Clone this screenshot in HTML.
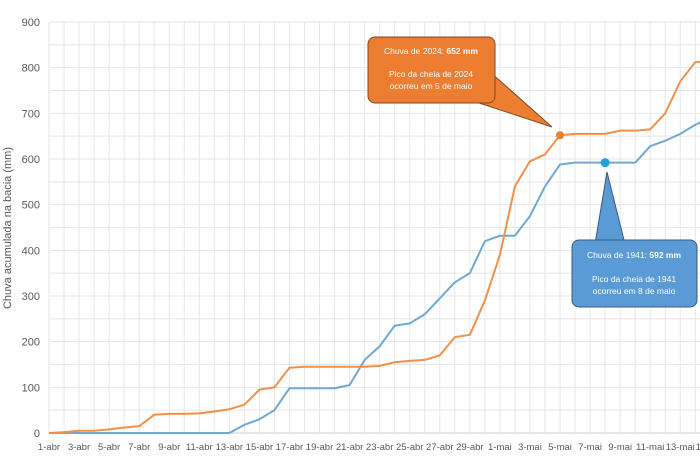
<!DOCTYPE html>
<html><head><meta charset="utf-8"><style>
html,body{margin:0;padding:0;background:#fff;}
svg{display:block;font-family:"Liberation Sans",sans-serif;}
</style></head><body>
<svg id="chart" width="700" height="466"></svg>
<script>
const days = ["1-abr","2-abr","3-abr","4-abr","5-abr","6-abr","7-abr","8-abr","9-abr","10-abr","11-abr","12-abr","13-abr","14-abr","15-abr","16-abr","17-abr","18-abr","19-abr","20-abr","21-abr","22-abr","23-abr","24-abr","25-abr","26-abr","27-abr","28-abr","29-abr","30-abr","1-mai","2-mai","3-mai","4-mai","5-mai","6-mai","7-mai","8-mai","9-mai","10-mai","11-mai","12-mai","13-mai","14-mai","15-mai"];
const rain2024 = [0,2,5,5,8,12,15,40,42,42,43,47,52,62,95,100,143,145,145,145,145,145,147,155,158,160,170,210,215,290,390,540,595,610,652,655,655,655,662,662,665,700,770,812,815];
const rain1941 = [0,0,0,0,0,0,0,0,0,0,0,0,0,18,30,50,98,98,98,98,105,160,190,235,240,260,295,330,350,420,432,432,475,540,588,592,592,592,592,592,628,640,655,675,692];
const yTicks = [0,100,200,300,400,500,600,700,800,900];
const NS="http://www.w3.org/2000/svg";
const svg=document.getElementById('chart');
const x0=49, dx=15.03, yb=433, yt=22;
const X=i=>x0+i*dx;
const Y=v=>yb-(v/900)*(yb-yt);
function mk(t,a,p){const e=document.createElementNS(NS,t);for(const k in a)e.setAttribute(k,a[k]);(p||svg).appendChild(e);return e;}
const grid=mk('g',{});


for(let v=0;v<=900;v+=50){mk('line',{x1:x0,x2:700,y1:Y(v),y2:Y(v),stroke:'#e6e6e6','stroke-width':1},grid);}
for(let i=0;i<48;i++){mk('line',{x1:X(i),x2:X(i),y1:yt,y2:yb,stroke:'#e6e6e6','stroke-width':1},grid);}
mk('line',{x1:x0,x2:700,y1:yb,y2:yb,stroke:'#cfcfcf'},grid);
yTicks.forEach(v=>{const t=mk('text',{x:40,y:Y(v)+4,'text-anchor':'end','font-size':11,fill:'#595959'});t.textContent=v;

});
days.forEach((d,i)=>{if(i%2)return;const t=mk('text',{x:X(i),y:450,'text-anchor':'middle','font-size':9.5,fill:'#595959'});t.textContent=d;

});
const yt2=mk('text',{x:0,y:0,transform:'translate(11,228) rotate(-90)','text-anchor':'middle','font-size':11,fill:'#595959'});yt2.textContent='Chuva acumulada na bacia (mm)';


function line(arr,col,name){const p=mk('polyline',{points:arr.map((v,i)=>X(i)+','+Y(v)).join(' '),fill:'none',stroke:col,'stroke-width':2,'stroke-linejoin':'round'});

}
line(rain1941,'#6fa8d4','series-1941');
line(rain2024,'#f0914a','series-2024');
const d1=mk('circle',{cx:X(34),cy:Y(rain2024[34]),r:4,fill:'#ed7d31'});


const d2=mk('circle',{cx:X(37),cy:Y(rain1941[37]),r:4.5,fill:'#1fa3e0'});


const c1=mk('g',{});


mk('path',{d:'M490,72 L552,127 L470,100 Z',fill:'#ed7d31',stroke:'#7a4a2a','stroke-width':1},c1);
mk('rect',{x:368,y:37,width:127,height:66,rx:7,fill:'#ed7d31',stroke:'#7a4a2a','stroke-width':1},c1);
mk('rect',{x:460,y:73,width:34,height:27,fill:'#ed7d31'},c1);
let t=mk('text',{x:431,y:54,'text-anchor':'middle','font-size':8.5,fill:'#fff'},c1);t.innerHTML='Chuva de 2024: <tspan font-weight="bold">652 mm</tspan>';
t=mk('text',{x:431,y:77,'text-anchor':'middle','font-size':8.5,fill:'#fff'},c1);t.textContent='Pico da cheia de 2024';
t=mk('text',{x:431,y:89,'text-anchor':'middle','font-size':8.5,fill:'#fff'},c1);t.textContent='ocorreu em 5 de maio';
const c2=mk('g',{});


mk('path',{d:'M595,244 L607,172 L625,244 Z',fill:'#5b9bd5',stroke:'#3a5a7a','stroke-width':1},c2);
mk('rect',{x:572,y:240,width:125,height:67,rx:7,fill:'#5b9bd5',stroke:'#3a5a7a','stroke-width':1},c2);
mk('rect',{x:596,y:241,width:28,height:6,fill:'#5b9bd5'},c2);
t=mk('text',{x:634,y:258,'text-anchor':'middle','font-size':8.5,fill:'#fff'},c2);t.innerHTML='Chuva de 1941: <tspan font-weight="bold">592 mm</tspan>';
t=mk('text',{x:634,y:282,'text-anchor':'middle','font-size':8.5,fill:'#fff'},c2);t.textContent='Pico da cheia de 1941';
t=mk('text',{x:634,y:294,'text-anchor':'middle','font-size':8.5,fill:'#fff'},c2);t.textContent='ocorreu em 8 de maio';
</script>
</body></html>
